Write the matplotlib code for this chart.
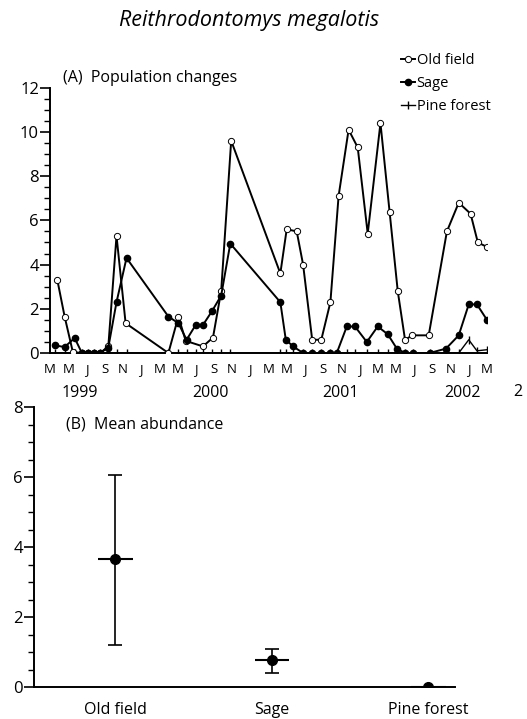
import matplotlib.pyplot as plt
import numpy as np
from matplotlib.ticker import MultipleLocator

plt.rcParams['font.family'] = ['Open Sans', 'DejaVu Sans']

# months since March 1999
old_m = [0.8, 1.6, 2.5, 3.5, 4.2, 4.8, 5.5, 6.4, 7.3, 8.3, 13.0, 14.1, 14.9, 16.8, 17.9, 18.8,
         19.9, 25.3, 26.0, 27.1, 27.8, 28.8, 29.8, 30.8, 31.7, 32.8, 33.8, 34.9, 36.3, 37.3,
         38.2, 39.0, 39.8, 41.6, 43.6, 44.9, 46.2, 47.0, 48.0]
old_v = [3.3, 1.65, 0.05, 0, 0, 0, 0, 0.3, 5.3, 1.35, 0, 1.65, 0.55, 0.3, 0.7, 2.8,
         9.6, 3.6, 5.6, 5.5, 4.0, 0.6, 0.6, 2.3, 7.1, 10.1, 9.3, 5.4, 10.4, 6.4,
         2.8, 0.6, 0.8, 0.8, 5.5, 6.8, 6.3, 5.0, 4.8]

sage_m = [0.5, 1.6, 2.7, 3.5, 4.2, 4.8, 5.5, 6.4, 7.3, 8.4, 13.0, 14.1, 15.0, 16.0, 16.4,
          16.8, 17.8, 18.8, 19.8, 25.3, 25.9, 26.7, 27.8, 28.8, 29.8, 30.8, 31.5, 32.6,
          33.5, 34.8, 36.0, 37.1, 38.1, 39.0, 39.9, 41.7, 43.5, 44.9, 46.0, 46.9, 48.0]
sage_v = [0.35, 0.27, 0.68, 0, 0, 0, 0, 0.25, 2.3, 4.3, 1.65, 1.35, 0.6, 1.27, np.nan,
          1.27, 1.9, 2.6, 4.95, 2.3, 0.6, 0.3, 0, 0, 0, 0, 0, 1.2,
          1.2, 0.5, 1.2, 0.85, 0.2, 0, 0, 0, 0.2, 0.8, 2.2, 2.2, 1.5]

pine_m = [0.5, 1.6, 2.7, 3.5, 4.2, 4.8, 5.5, 6.4, 7.3, 8.4, 13.0, 14.1, 15.0, 16.0, 16.8,
          17.8, 18.8, 19.8, 25.3, 25.9, 26.7, 27.8, 28.8, 29.8, 30.8, 31.5, 32.6, 33.5,
          34.8, 36.0, 37.1, 38.1, 39.0, 39.9, 41.7, 43.5, 44.9, 46.0, 46.9, 48.0]
pine_v = [0] * 36 + [0, 0.6, 0.1, 0.15]

month_labels = ['M', 'M', 'J', 'S', 'N', 'J'] * 4 + ['M']
years = ['1999', '2000', '2001', '2002']
year_pos = [3.3, 17.6, 31.9, 45.3]

cats = ['Old field', 'Sage', 'Pine forest']
means = [3.65, 0.77, 0.0]
upper = [6.06, 1.1, 0.0]
lower = [1.2, 0.39, 0.0]

fig = plt.figure(figsize=(5.27, 7.19), dpi=100)

# (A) population changes
ax = fig.add_axes([0.095, 0.509, 0.829, 0.369])
l1, = ax.plot(old_m, old_v, color='k', lw=1.4, marker='o', ms=4.5, mfc='white', mec='k', mew=0.7,
              label='Old field', zorder=3)
l2, = ax.plot(sage_m, sage_v, color='k', lw=1.4, marker='o', ms=4.5, label='Sage', zorder=4)
l3, = ax.plot(pine_m, pine_v, color='k', lw=1.0, marker='|', ms=6, label='Pine forest', zorder=2)

ax.set_xlim(0, 48)
ax.set_ylim(0, 12)
ax.set_xticks(np.arange(0, 49, 2))
ax.set_xticklabels(month_labels, fontsize=9.5)
ax.tick_params(axis='x', length=0, pad=7)
ax.set_yticks(range(0, 13, 2))
ax.yaxis.set_minor_locator(MultipleLocator(0.5))
ax.tick_params(axis='y', which='major', length=7, width=1.2, labelsize=12, pad=1)
ax.tick_params(axis='y', which='minor', length=4, width=1.0)
for s in ['top', 'right']:
    ax.spines[s].set_visible(False)
for s in ['left', 'bottom']:
    ax.spines[s].set_linewidth(1.4)
for yr, p in zip(years, year_pos):
    ax.text(p, -0.152, yr, transform=ax.get_xaxis_transform(), ha='center', va='center',
            fontsize=11.5, clip_on=False)
# last year label is cut by the page edge in the original
fig.text(513 / 527, 1 - 392 / 719, '2', ha='left', va='center', fontsize=11.5)
ax.text(0.03, 1.035, '(A)  Population changes', transform=ax.transAxes, fontsize=11.5,
        va='center')

fig.legend(handles=[l1, l2, l3], loc='upper left', bbox_to_anchor=(0.76, 0.926), frameon=False,
           fontsize=10.5, handlelength=1.0, handletextpad=0.1, labelspacing=0.55,
           borderaxespad=0, borderpad=0)

fig.text(0.473, 0.972, 'Reithrodontomys megalotis', ha='center', va='center', fontsize=15.5,
         style='italic')

# (B) mean abundance
bx = fig.add_axes([0.0645, 0.0445, 0.799, 0.389])
xs = np.arange(len(cats))
m = np.array(means)
bx.errorbar(xs, m, yerr=[m - np.array(lower), np.array(upper) - m], fmt='o', color='k',
            ms=7, elinewidth=1.2, capsize=5, capthick=1.2, zorder=3)
bx.hlines(m, xs - 0.11, xs + 0.11, color='k', lw=1.5)
bx.set_xlim(-0.52, 2.17)
bx.set_ylim(0, 8)
bx.set_xticks(xs)
bx.set_xticklabels(cats, fontsize=11.5)
bx.tick_params(axis='x', length=0, pad=11)
bx.set_yticks(range(0, 9, 2))
bx.yaxis.set_minor_locator(MultipleLocator(0.5))
bx.tick_params(axis='y', which='major', length=7, width=1.2, labelsize=12, pad=1)
bx.tick_params(axis='y', which='minor', length=4, width=1.0)
for s in ['top', 'right']:
    bx.spines[s].set_visible(False)
for s in ['left', 'bottom']:
    bx.spines[s].set_linewidth(1.4)
bx.text(0.075, 0.94, '(B)  Mean abundance', transform=bx.transAxes, fontsize=11.5, va='center')

fig.savefig('out.png', dpi=100)
